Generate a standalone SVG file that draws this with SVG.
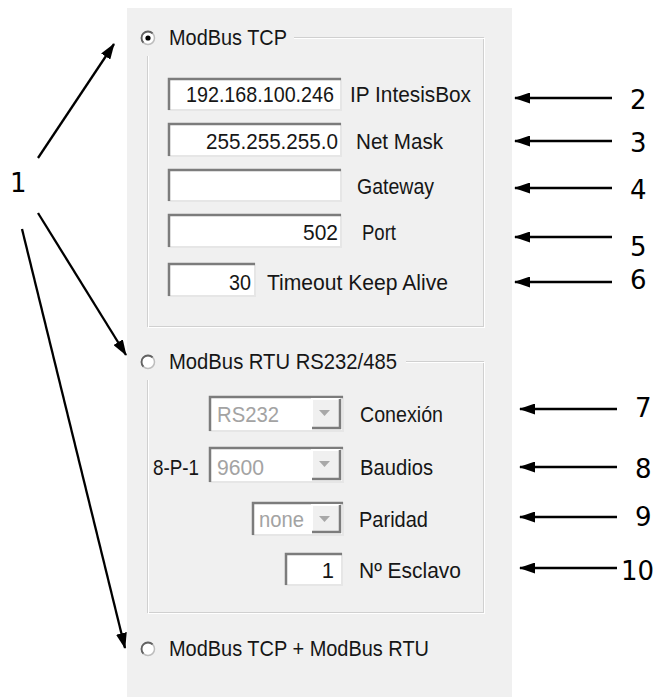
<svg xmlns="http://www.w3.org/2000/svg" width="665" height="697" viewBox="0 0 665 697">
  <defs>
    <marker id="ah" viewBox="0 0 16 11" refX="15" refY="5.5" markerWidth="16" markerHeight="11" markerUnits="userSpaceOnUse" orient="auto">
      <path d="M0,0 L16,5.5 L0,11 Z" fill="#000"/>
    </marker>
    <style>
      .ui { font-family: "Liberation Sans", Arial, sans-serif; font-size: 22px; fill: #161616; }
      .dis { fill: #a3a3a3; }
      .num { font-family: "DejaVu Sans", Verdana, sans-serif; font-size: 26px; fill: #000; }
      .edge-lo { fill: none; stroke: #d0d0d0; stroke-width: 1; }
      .edge-hi { fill: none; stroke: #ffffff; stroke-width: 1; }
      .field { fill: #ffffff; }
      .sunk-dark { fill: none; stroke: #7c7c7c; stroke-width: 2.5; }
      .sunk-light { fill: none; stroke: #e6e6e6; stroke-width: 2; }
      .btn { fill: #f0f0f0; }
      .btn-hi { fill: none; stroke: #ffffff; stroke-width: 2; }
      .btn-lo { fill: none; stroke: #7c7c7c; stroke-width: 2.5; }
      .tri { fill: #a8a8a8; }
      .radio { fill: #ffffff; stroke: #bdbdbd; stroke-width: 1.5; }
      .radio-sh { fill: none; stroke: #626262; stroke-width: 1.8; }
      .conn { stroke: #000; stroke-width: 2.3; fill: none; marker-end: url(#ah); }
    </style>
  </defs>

  <rect width="665" height="697" fill="#ffffff"/>

  <!-- dialog panel -->
  <g id="panel">
    <rect x="127" y="8" width="385" height="689" fill="#f0f0f0"/>
    <!-- etched group frames -->
    <rect class="edge-lo" x="147.5" y="37.5" width="336" height="289"/>
    <rect class="edge-hi" x="148.5" y="38.5" width="336" height="289"/>
    <rect class="edge-lo" x="147.5" y="361.5" width="336" height="251"/>
    <rect class="edge-hi" x="148.5" y="362.5" width="336" height="251"/>
    <!-- label backings that break the frames -->
    <rect x="134" y="20" width="160" height="36" fill="#f0f0f0"/>
    <rect x="134" y="344" width="272" height="36" fill="#f0f0f0"/>
  </g>

  <!-- ModBus TCP option -->
  <g id="opt-tcp">
    <circle class="radio" cx="148" cy="38" r="6.5"/>
    <path class="radio-sh" d="M143.4,42.6 A6.5,6.5 0 0 1 152.6,33.4"/>
    <circle cx="148" cy="38" r="2.6" fill="#000"/>
    <text class="ui" x="169" y="45" textLength="118" lengthAdjust="spacingAndGlyphs">ModBus TCP</text>
  </g>

  <g id="ip">
    <rect class="field" x="168" y="78" width="173" height="32"/>
    <path class="sunk-light" d="M168,110 H341 V78"/>
    <path class="sunk-dark" d="M169,110 V79 H341"/>
    <text class="ui" x="186" y="102" textLength="148" lengthAdjust="spacingAndGlyphs">192.168.100.246</text>
    <text class="ui" x="350" y="102" textLength="121" lengthAdjust="spacingAndGlyphs">IP IntesisBox</text>
  </g>

  <g id="mask">
    <rect class="field" x="168" y="123" width="173" height="33"/>
    <path class="sunk-light" d="M168,156 H341 V123"/>
    <path class="sunk-dark" d="M169,156 V124 H341"/>
    <text class="ui" x="206" y="149" textLength="132" lengthAdjust="spacingAndGlyphs">255.255.255.0</text>
    <text class="ui" x="356" y="149" textLength="87" lengthAdjust="spacingAndGlyphs">Net Mask</text>
  </g>

  <g id="gateway">
    <rect class="field" x="168" y="169" width="173" height="32"/>
    <path class="sunk-light" d="M168,201 H341 V169"/>
    <path class="sunk-dark" d="M169,201 V170 H341"/>
    <text class="ui" x="357" y="194" textLength="77" lengthAdjust="spacingAndGlyphs">Gateway</text>
  </g>

  <g id="port">
    <rect class="field" x="168" y="214" width="173" height="33"/>
    <path class="sunk-light" d="M168,247 H341 V214"/>
    <path class="sunk-dark" d="M169,247 V215 H341"/>
    <text class="ui" x="303" y="240" textLength="35" lengthAdjust="spacingAndGlyphs">502</text>
    <text class="ui" x="362" y="240" textLength="34" lengthAdjust="spacingAndGlyphs">Port</text>
  </g>

  <g id="timeout">
    <rect class="field" x="168" y="263" width="87" height="33"/>
    <path class="sunk-light" d="M168,296 H255 V263"/>
    <path class="sunk-dark" d="M169,296 V264 H255"/>
    <text class="ui" x="229" y="290" textLength="22" lengthAdjust="spacingAndGlyphs">30</text>
    <text class="ui" x="267" y="290" textLength="181" lengthAdjust="spacingAndGlyphs">Timeout Keep Alive</text>
  </g>

  <!-- ModBus RTU option -->
  <g id="opt-rtu">
    <circle class="radio" cx="148" cy="362" r="6.5"/>
    <path class="radio-sh" d="M143.4,366.6 A6.5,6.5 0 0 1 152.6,357.4"/>
    <text class="ui" x="169" y="369" textLength="228" lengthAdjust="spacingAndGlyphs">ModBus RTU RS232/485</text>
  </g>

  <g id="conexion">
    <rect class="field" x="209" y="396" width="134" height="35"/>
    <path class="sunk-light" d="M209,431 H343 V396"/>
    <path class="sunk-dark" d="M210,431 V397 H343"/>
    <rect class="btn" x="312" y="399" width="28" height="29"/>
    <path class="btn-hi" d="M312,428 V399 H340"/>
    <path class="btn-lo" d="M312,428 H340 V399"/>
    <path class="tri" d="M319,410 H330 L324.5,416 Z"/>
    <text class="ui dis" x="217" y="422" textLength="62" lengthAdjust="spacingAndGlyphs">RS232</text>
    <text class="ui" x="360" y="422" textLength="83" lengthAdjust="spacingAndGlyphs">Conexión</text>
  </g>

  <g id="baudios">
    <text class="ui" x="153" y="475" textLength="46" lengthAdjust="spacingAndGlyphs">8-P-1</text>
    <rect class="field" x="209" y="447" width="134" height="35"/>
    <path class="sunk-light" d="M209,482 H343 V447"/>
    <path class="sunk-dark" d="M210,482 V448 H343"/>
    <rect class="btn" x="312" y="450" width="28" height="29"/>
    <path class="btn-hi" d="M312,479 V450 H340"/>
    <path class="btn-lo" d="M312,479 H340 V450"/>
    <path class="tri" d="M319,461 H330 L324.5,467 Z"/>
    <text class="ui dis" x="217" y="475" textLength="47" lengthAdjust="spacingAndGlyphs">9600</text>
    <text class="ui" x="360" y="475" textLength="73" lengthAdjust="spacingAndGlyphs">Baudios</text>
  </g>

  <g id="paridad">
    <rect class="field" x="252" y="502" width="91" height="33"/>
    <path class="sunk-light" d="M252,535 H343 V502"/>
    <path class="sunk-dark" d="M253,535 V503 H343"/>
    <rect class="btn" x="312" y="505" width="28" height="27"/>
    <path class="btn-hi" d="M312,532 V505 H340"/>
    <path class="btn-lo" d="M312,532 H340 V505"/>
    <path class="tri" d="M319,516 H330 L324.5,522 Z"/>
    <text class="ui dis" x="259" y="527" textLength="45" lengthAdjust="spacingAndGlyphs">none</text>
    <text class="ui" x="359" y="527" textLength="69" lengthAdjust="spacingAndGlyphs">Paridad</text>
  </g>

  <g id="esclavo">
    <rect class="field" x="285" y="553" width="57" height="32"/>
    <path class="sunk-light" d="M285,585 H342 V553"/>
    <path class="sunk-dark" d="M286,585 V554 H342"/>
    <text class="ui" x="334" y="578" text-anchor="end">1</text>
    <text class="ui" x="359" y="578" textLength="102" lengthAdjust="spacingAndGlyphs">Nº Esclavo</text>
  </g>

  <!-- combined option -->
  <g id="opt-both">
    <circle class="radio" cx="148" cy="649" r="6.5"/>
    <path class="radio-sh" d="M143.4,653.6 A6.5,6.5 0 0 1 152.6,644.4"/>
    <text class="ui" x="169" y="656" textLength="260" lengthAdjust="spacingAndGlyphs">ModBus TCP + ModBus RTU</text>
  </g>

  <!-- callout numbers -->
  <g id="callouts">
    <text class="num" x="10" y="192">1</text>
    <text class="num" x="630" y="109">2</text>
    <text class="num" x="630" y="152">3</text>
    <text class="num" x="630" y="199">4</text>
    <text class="num" x="630" y="256">5</text>
    <text class="num" x="630" y="289">6</text>
    <text class="num" x="635" y="417">7</text>
    <text class="num" x="635" y="478">8</text>
    <text class="num" x="635" y="526">9</text>
    <text class="num" x="621" y="580">10</text>
  </g>

  <!-- connectors -->
  <g id="connectors">
    <line class="conn" x1="38" y1="158" x2="114" y2="44"/>
    <line class="conn" x1="38" y1="213" x2="126" y2="355"/>
    <line class="conn" x1="22" y1="229" x2="125" y2="648"/>
    <line class="conn" x1="612" y1="98" x2="515" y2="98"/>
    <line class="conn" x1="612" y1="141" x2="515" y2="141"/>
    <line class="conn" x1="612" y1="188" x2="515" y2="188"/>
    <line class="conn" x1="612" y1="237" x2="515" y2="237"/>
    <line class="conn" x1="612" y1="282" x2="515" y2="282"/>
    <line class="conn" x1="617" y1="409" x2="520" y2="409"/>
    <line class="conn" x1="617" y1="467" x2="520" y2="467"/>
    <line class="conn" x1="617" y1="517" x2="520" y2="517"/>
    <line class="conn" x1="617" y1="568" x2="520" y2="568"/>
  </g>
</svg>
